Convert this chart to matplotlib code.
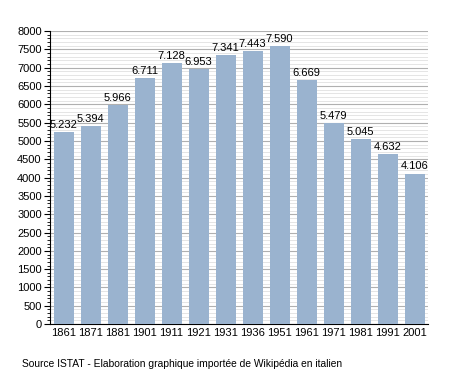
import numpy as np
import matplotlib.pyplot as plt
from matplotlib.ticker import MultipleLocator

plt.rcParams['font.family'] = ['Liberation Sans', 'DejaVu Sans']

# dati popolazione
anni = ['1861', '1871', '1881', '1901', '1911', '1921', '1931', '1936',
        '1951', '1961', '1971', '1981', '1991', '2001']
abitanti = [5232, 5394, 5966, 6711, 7128, 6953, 7341, 7443,
            7590, 6669, 5479, 5045, 4632, 4106]
etichette = ['5.232', '5.394', '5.966', '6.711', '7.128', '6.953', '7.341',
             '7.443', '7.590', '6.669', '5.479', '5.045', '4.632', '4.106']

fig = plt.figure(figsize=(4.55, 3.73), dpi=100)
ax = fig.add_axes([0.110, 0.131, 0.831, 0.786])

x = np.arange(len(anni))
ax.bar(x, abitanti, width=0.74, color='#9ab3cf', zorder=3)
for xi, v, t in zip(x, abitanti, etichette):
    ax.text(xi, v + 60, t, ha='center', va='bottom', fontsize=8, zorder=4)

ax.set_xlim(-0.5, len(anni) - 0.5)
ax.set_ylim(0, 8000)
ax.yaxis.set_major_locator(MultipleLocator(500))
ax.yaxis.set_minor_locator(MultipleLocator(100))
ax.grid(True, which='major', axis='y', color='#b0b0b0', linewidth=0.8, zorder=0)
ax.grid(True, which='minor', axis='y', color='#e0e0e0', linewidth=0.6, zorder=0)

ax.set_xticks(x)
ax.set_xticklabels(anni)
ax.tick_params(axis='x', length=0, labelsize=8, pad=3)
ax.tick_params(axis='y', which='major', length=4, labelsize=8, pad=2)
ax.tick_params(axis='y', which='minor', length=2)

ax.spines['top'].set_visible(False)
ax.spines['right'].set_visible(False)

fig.text(0.048, 0.012, 'Source ISTAT - Elaboration graphique importée de Wikipédia en italien',
         fontsize=7.4, ha='left', va='bottom')

fig.savefig('out.png', dpi=100)
